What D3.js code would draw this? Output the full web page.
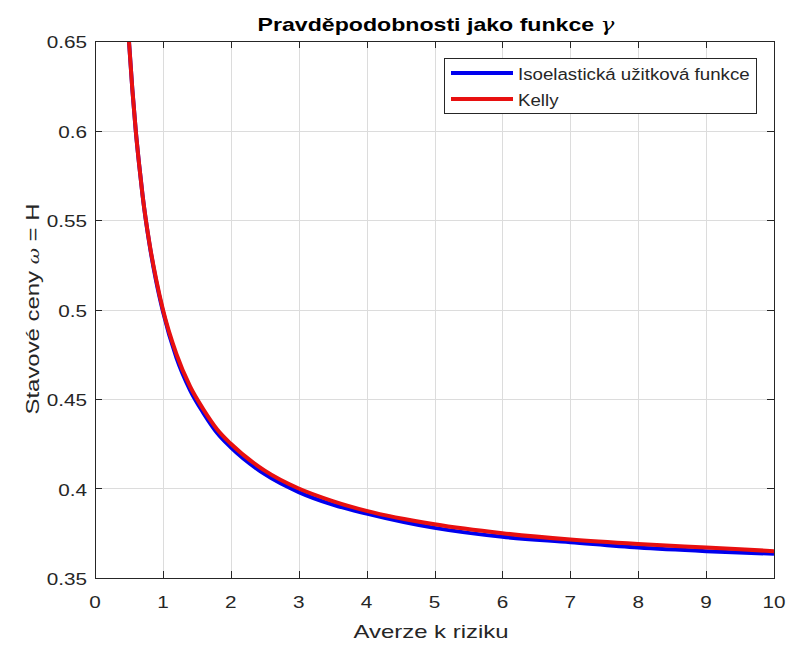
<!DOCTYPE html>
<html>
<head>
<meta charset="utf-8">
<script src="https://cdn.jsdelivr.net/npm/d3@7"></script>
<style>
  html, body { margin: 0; padding: 0; background: #fff; }
  svg { display: block; font-family: "Liberation Sans", Arial, sans-serif; }
</style>
</head>
<body>
<svg id="chart" width="791" height="649"></svg>
<script>
// Values
const gammaVals = [0.45, 0.5, 0.55, 0.6, 0.65, 0.7, 0.8, 0.9, 1, 1.2, 1.4, 1.6, 1.8, 2, 2.5, 3, 3.5, 4, 5, 6, 7, 8, 9, 10];
const isoelastic = [0.683, 0.650, 0.623, 0.600, 0.581, 0.564, 0.537, 0.516, 0.499, 0.473, 0.455, 0.442, 0.431, 0.423, 0.408, 0.398, 0.391, 0.386, 0.378, 0.373, 0.370, 0.367, 0.365, 0.3635];
const kelly      = [0.683, 0.650, 0.623, 0.600, 0.581, 0.564, 0.5375, 0.517, 0.500, 0.475, 0.457, 0.444, 0.433, 0.425, 0.410, 0.400, 0.393, 0.3875, 0.380, 0.375, 0.3715, 0.369, 0.367, 0.365];
const xTicks = [0, 1, 2, 3, 4, 5, 6, 7, 8, 9, 10];
const yTicks = [0.35, 0.4, 0.45, 0.5, 0.55, 0.6, 0.65];
const seriesNames = ["Isoelastická užitková funkce", "Kelly"];
const seriesColors = ["#0000ee", "#e81010"];

const svg = d3.select("#chart");
const m = {left: 95, right: 774, top: 41, bottom: 578};
const axisColor = "#262626";

const x = d3.scaleLinear().domain([0, 10]).range([m.left, m.right]);
const y = d3.scaleLinear().domain([0.35, 0.65]).range([m.bottom, m.top]);

// text in the reference is rendered wider than Liberation Sans, so stretch it along the baseline
function addText(parent, tx, ty, sx, size, rot) {
    return parent.append("text")
        .attr("transform", `translate(${tx},${ty}) rotate(${rot || 0}) scale(${sx},1)`)
        .attr("font-size", size)
        .attr("fill", axisColor);
}

// grid
const grid = svg.append("g").attr("stroke", "#dcdcdc").attr("stroke-width", 1);
grid.selectAll("line.gx").data(xTicks.slice(1, -1)).join("line")
    .attr("x1", d => Math.round(x(d)) + 0.5).attr("x2", d => Math.round(x(d)) + 0.5)
    .attr("y1", m.top).attr("y2", m.bottom);
grid.selectAll("line.gy").data(yTicks.slice(1, -1)).join("line")
    .attr("y1", d => Math.round(y(d)) + 0.5).attr("y2", d => Math.round(y(d)) + 0.5)
    .attr("x1", m.left).attr("x2", m.right);

// curves
svg.append("clipPath").attr("id", "clip").append("rect")
    .attr("x", m.left).attr("y", m.top)
    .attr("width", m.right - m.left).attr("height", m.bottom - m.top);

const line = d3.line()
    .x((d, i) => x(gammaVals[i]))
    .y(d => y(d))
    .curve(d3.curveMonotoneX);

const curves = svg.append("g").attr("clip-path", "url(#clip)");
[isoelastic, kelly].forEach((vals, k) => {
    curves.append("path")
        .datum(vals)
        .attr("d", line)
        .attr("fill", "none")
        .attr("stroke", seriesColors[k])
        .attr("stroke-width", 4)
        .attr("stroke-linejoin", "round");
});

// axes: box with inward ticks on all sides
const tickLen = 7;
const axes = svg.append("g").attr("stroke", axisColor).attr("stroke-width", 1);
axes.append("rect")
    .attr("x", m.left + 0.5).attr("y", m.top + 0.5)
    .attr("width", m.right - m.left).attr("height", m.bottom - m.top)
    .attr("fill", "none");
xTicks.forEach(t => {
    const px = Math.round(x(t)) + 0.5;
    axes.append("line").attr("x1", px).attr("x2", px).attr("y1", m.bottom).attr("y2", m.bottom - tickLen);
    axes.append("line").attr("x1", px).attr("x2", px).attr("y1", m.top).attr("y2", m.top + tickLen);
});
yTicks.forEach(t => {
    const py = Math.round(y(t)) + 0.5;
    axes.append("line").attr("x1", m.left).attr("x2", m.left + tickLen).attr("y1", py).attr("y2", py);
    axes.append("line").attr("x1", m.right).attr("x2", m.right - tickLen).attr("y1", py).attr("y2", py);
});

// tick labels
const tl = svg.append("g");
xTicks.forEach(t => {
    addText(tl, x(t), 608, 1.22, 17).attr("text-anchor", "middle").text(t);
});
yTicks.forEach(t => {
    addText(tl, 87, y(t) + 7, 1.22, 17).attr("text-anchor", "end").text(+t.toFixed(2));
});

// title
const title = addText(svg, 436, 31, 1.25, 18.5)
    .attr("text-anchor", "middle").attr("font-weight", "bold").attr("fill", "#000");
title.append("tspan").text("Pravděpodobnosti jako funkce ");
title.append("tspan").attr("font-weight", "normal").attr("font-style", "italic")
    .attr("font-family", "'DejaVu Serif', serif").text("γ");

// axis labels
addText(svg, 431, 638, 1.33, 18).attr("text-anchor", "middle").text("Averze k riziku");
const yl = addText(svg, 39, 309, 1.33, 18, -90).attr("text-anchor", "middle");
yl.append("tspan").text("Stavové ceny ");
yl.append("tspan").attr("font-style", "italic").attr("font-family", "'DejaVu Serif', serif")
    .attr("font-size", 15).text("ω");
yl.append("tspan").text(" = H");

// legend
const lg = svg.append("g");
lg.append("rect")
    .attr("x", 444.5).attr("y", 58.5).attr("width", 312).attr("height", 55)
    .attr("fill", "#fff").attr("stroke", axisColor).attr("stroke-width", 1);
seriesNames.forEach((name, i) => {
    const ly = 73 + i * 26;
    lg.append("line").attr("x1", 451).attr("x2", 513).attr("y1", ly).attr("y2", ly)
        .attr("stroke", seriesColors[i]).attr("stroke-width", 4);
    addText(lg, 518, ly + 7, 1.1, 17).text(name);
});
</script>
</body>
</html>
